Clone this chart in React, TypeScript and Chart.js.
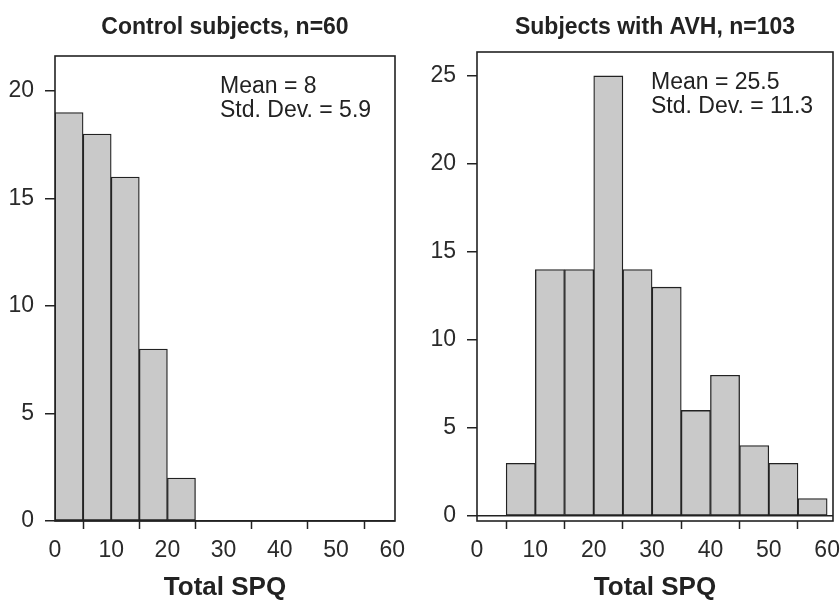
import React, { useEffect, useRef } from "react";
import { Chart, registerables } from "chart.js";
Chart.register(...registerables);

const binCenters = [2.5, 7.5, 12.5, 17.5, 22.5, 27.5, 32.5, 37.5, 42.5, 47.5, 52.5, 57.5];
const controlCounts = [19, 18, 16, 8, 2, 0, 0, 0, 0, 0, 0, 0];
const avhCounts = [0, 3, 14, 14, 25, 14, 13, 6, 8, 4, 3, 1];
const xTicks = [0, 10, 20, 30, 40, 50, 60];
const controlYTicks = [0, 5, 10, 15, 20];
const avhYTicks = [0, 5, 10, 15, 20, 25];
const controlTitle = "Control subjects, n=60";
const avhTitle = "Subjects with AVH, n=103";
const controlStats = ["Mean = 8", "Std. Dev. = 5.9"];
const avhStats = ["Mean = 25.5", "Std. Dev. = 11.3"];
const xAxisTitle = "Total SPQ";

const FONT = "'Liberation Sans', Arial, Helvetica, sans-serif";
const INK = "#222222";

const framePlugin = {
  id: "frame",
  afterDatasetsDraw(chart: any) {
    const { ctx, chartArea: a } = chart;
    ctx.save();
    ctx.strokeStyle = INK;
    ctx.lineWidth = 1.6;
    ctx.strokeRect(a.left, a.top, a.right - a.left, a.bottom - a.top);
    ctx.restore();
  },
};

const statsPlugin = {
  id: "stats",
  afterDraw(chart: any, _args: any, opts: any) {
    const { ctx, chartArea: a } = chart;
    ctx.save();
    ctx.fillStyle = INK;
    ctx.font = `23px ${FONT}`;
    ctx.textAlign = "left";
    ctx.textBaseline = "alphabetic";
    (opts.lines || []).forEach((t: string, i: number) => {
      ctx.fillText(t, a.left + opts.dx, a.top + opts.dy + i * 24);
    });
    ctx.restore();
  },
};

type Panel = {
  counts: number[];
  yTicks: number[];
  yMin: number;
  yMax: number;
  xMax: number;
  title: string;
  stats: string[];
  yAxisWidth: number;
  rightPad: number;
  titleBottomPad: number;
  statsDx: number;
  statsDy: number;
};

function makeConfig(p: Panel): any {
  return {
    type: "bar",
    data: {
      datasets: [
        {
          data: binCenters.map((x, i) => ({ x, y: p.counts[i] })),
          backgroundColor: "#c9c9c9",
          borderColor: INK,
          borderWidth: 1.3,
          borderSkipped: false,
          barPercentage: 1,
          categoryPercentage: 1,
        },
      ],
    },
    options: {
      animation: false,
      responsive: false,
      devicePixelRatio: 1,
      layout: { padding: { top: 0, left: 0, right: p.rightPad, bottom: 0 } },
      plugins: {
        legend: { display: false },
        tooltip: { enabled: false },
        title: {
          display: true,
          text: p.title,
          fullSize: false,
          color: INK,
          font: { family: FONT, size: 23, weight: "bold", lineHeight: 1.2 },
          padding: { top: 14, bottom: p.titleBottomPad },
        },
        stats: { lines: p.stats, dx: p.statsDx, dy: p.statsDy },
      },
      scales: {
        x: {
          type: "linear",
          min: 0,
          max: p.xMax,
          offset: false,
          afterBuildTicks: (s: any) => {
            s.ticks = xTicks.map((v) => ({ value: v }));
          },
          afterFit: (s: any) => {
            s.height = 80;
            s.paddingLeft = 0;
            s.paddingRight = 0;
          },
          border: { display: false },
          grid: {
            display: true,
            drawOnChartArea: false,
            drawTicks: true,
            tickLength: 8,
            tickColor: INK,
            tickWidth: 1.5,
          },
          ticks: {
            color: "#2a2a2a",
            font: { family: FONT, size: 23 },
            padding: 8,
            maxRotation: 0,
            autoSkip: false,
          },
          title: {
            display: true,
            text: xAxisTitle,
            color: INK,
            font: { family: FONT, size: 26, weight: "bold", lineHeight: 1 },
            padding: 0,
          },
        },
        y: {
          type: "linear",
          min: p.yMin,
          max: p.yMax,
          afterBuildTicks: (s: any) => {
            s.ticks = p.yTicks.map((v) => ({ value: v }));
          },
          afterFit: (s: any) => {
            s.width = p.yAxisWidth;
            s.paddingTop = 0;
            s.paddingBottom = 0;
          },
          border: { display: false },
          grid: {
            display: true,
            drawOnChartArea: true,
            drawTicks: true,
            tickLength: 10,
            tickColor: INK,
            tickWidth: 1.5,
            lineWidth: 1.5,
            color: (ctx: any) => (ctx.tick && ctx.tick.value === 0 ? INK : "rgba(0,0,0,0)"),
          },
          ticks: {
            color: "#2a2a2a",
            font: { family: FONT, size: 23 },
            padding: 11,
            autoSkip: false,
          },
        },
      },
    },
    plugins: [framePlugin, statsPlugin],
  };
}

function HistPanel({ panel, left }: { panel: Panel; left: number }) {
  const ref = useRef<HTMLCanvasElement | null>(null);
  useEffect(() => {
    if (!ref.current) return;
    const chart = new Chart(ref.current, makeConfig(panel));
    return () => chart.destroy();
  }, [panel]);
  return (
    <canvas
      ref={ref}
      width={420}
      height={601}
      style={{ position: "absolute", left, top: 0, width: 420, height: 601 }}
    />
  );
}

const controlPanel: Panel = {
  counts: controlCounts,
  yTicks: controlYTicks,
  yMin: 0,
  yMax: 21.63,
  xMax: 60.5,
  title: controlTitle,
  stats: controlStats,
  yAxisWidth: 55,
  rightPad: 25,
  titleBottomPad: 14.4,
  statsDx: 165,
  statsDy: 37,
};

const avhPanel: Panel = {
  counts: avhCounts,
  yTicks: avhYTicks,
  yMin: -0.28,
  yMax: 26.36,
  xMax: 61.0,
  title: avhTitle,
  stats: avhStats,
  yAxisWidth: 57,
  rightPad: 7,
  titleBottomPad: 10.4,
  statsDx: 174,
  statsDy: 37,
};

export default function App() {
  return (
    <div
      style={{
        position: "fixed",
        left: 0,
        top: 0,
        width: 840,
        height: 601,
        background: "#ffffff",
        overflow: "hidden",
      }}
    >
      <HistPanel panel={controlPanel} left={0} />
      <HistPanel panel={avhPanel} left={420} />
    </div>
  );
}
